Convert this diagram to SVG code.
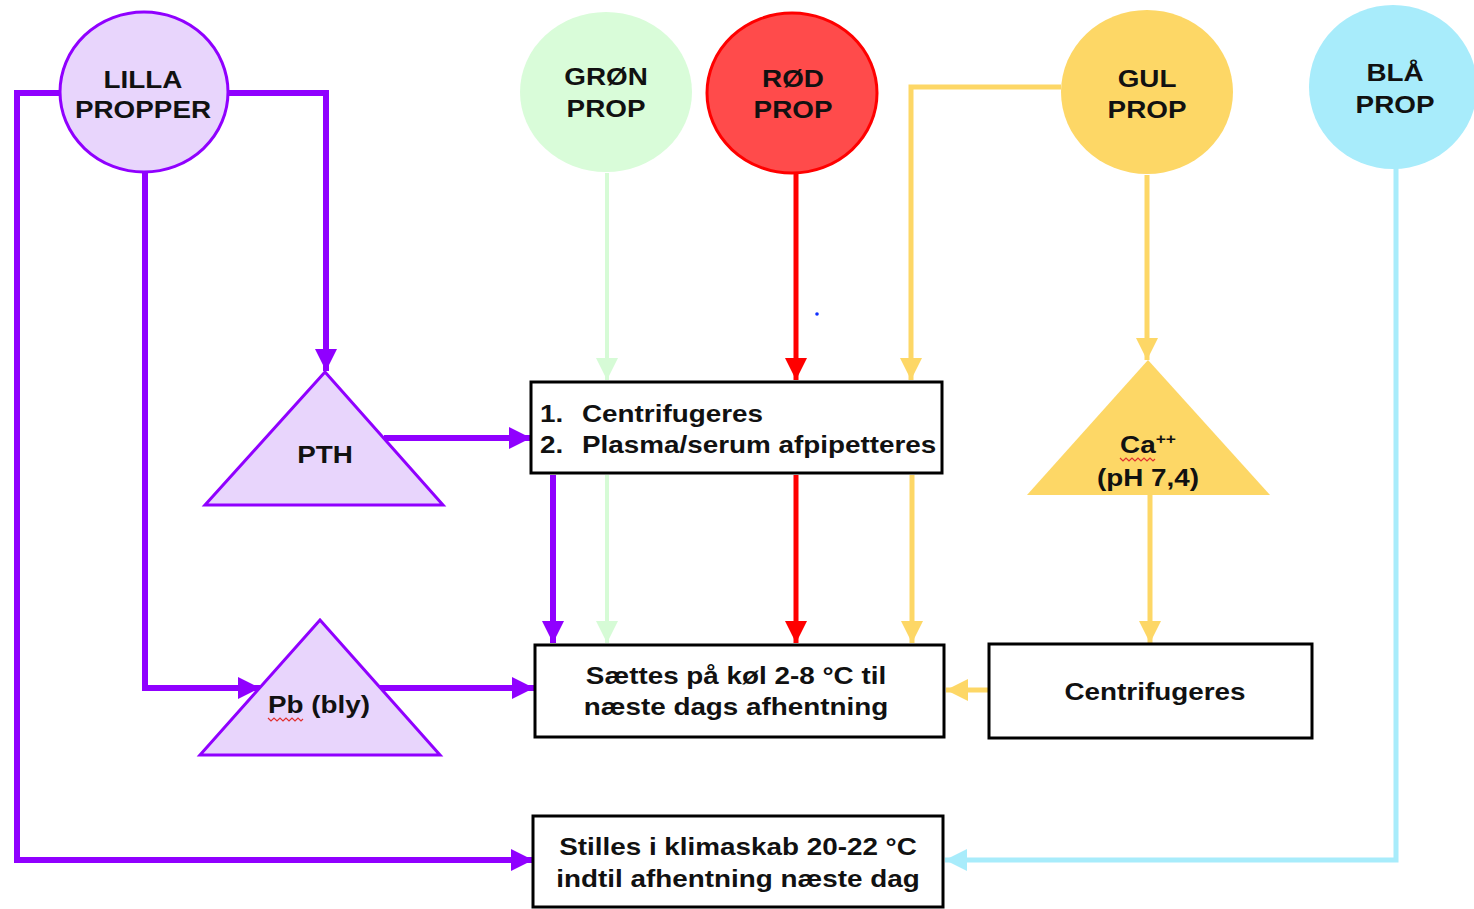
<svg xmlns="http://www.w3.org/2000/svg" width="1474" height="909" viewBox="0 0 1474 909">
<style>
text{font-family:"Liberation Sans",Arial,sans-serif;font-weight:bold;font-size:24px;fill:#111;}
.c{text-anchor:middle;}
.box{fill:#fff;stroke:#000;stroke-width:3;}
.cn{fill:none;}
.pu{stroke:#9000ff;stroke-width:6;}
.gr{stroke:#d6fbd6;stroke-width:4;}
.rd{stroke:#ff0000;stroke-width:5;}
.ye{stroke:#fdd766;stroke-width:5;}
.bl{stroke:#a8ecfb;stroke-width:5;}
.sq{fill:none;stroke:#e03030;stroke-width:1.2;}
</style>
<defs>
<marker id="aPu" markerUnits="userSpaceOnUse" markerWidth="24" markerHeight="22" refX="22" refY="11" orient="auto"><path d="M0,0 L22,11 L0,22 z" fill="#9000ff"/></marker>
<marker id="aGr" markerUnits="userSpaceOnUse" markerWidth="24" markerHeight="22" refX="22" refY="11" orient="auto"><path d="M0,0 L22,11 L0,22 z" fill="#d6fbd6"/></marker>
<marker id="aRd" markerUnits="userSpaceOnUse" markerWidth="24" markerHeight="22" refX="22" refY="11" orient="auto"><path d="M0,0 L22,11 L0,22 z" fill="#ff0000"/></marker>
<marker id="aYe" markerUnits="userSpaceOnUse" markerWidth="24" markerHeight="22" refX="22" refY="11" orient="auto"><path d="M0,0 L22,11 L0,22 z" fill="#fdd766"/></marker>
<marker id="aBl" markerUnits="userSpaceOnUse" markerWidth="24" markerHeight="22" refX="22" refY="11" orient="auto"><path d="M0,0 L22,11 L0,22 z" fill="#a8ecfb"/></marker>
</defs>

<g id="connectors" class="cn">
<path class="pu" d="M60,93 H17 V860 H533" marker-end="url(#aPu)"/>
<path class="pu" d="M228,93 H326 V371" marker-end="url(#aPu)"/>
<path class="pu" d="M145,173 V688 H260" marker-end="url(#aPu)"/>
<path class="pu" d="M384,438 H531" marker-end="url(#aPu)"/>
<path class="pu" d="M380,688 H534" marker-end="url(#aPu)"/>
<path class="pu" d="M553,475 V643" marker-end="url(#aPu)"/>
<path class="gr" d="M607,173 V380" marker-end="url(#aGr)"/>
<path class="gr" d="M607,475 V643" marker-end="url(#aGr)"/>
<path class="rd" d="M796,174 V380" marker-end="url(#aRd)"/>
<path class="rd" d="M796,475 V643" marker-end="url(#aRd)"/>
<path class="ye" d="M1061,87 H911 V380" marker-end="url(#aYe)"/>
<path class="ye" d="M912,475 V643" marker-end="url(#aYe)"/>
<path class="ye" d="M1147,175 V360" marker-end="url(#aYe)"/>
<path class="ye" d="M1150,495 V643" marker-end="url(#aYe)"/>
<path class="ye" d="M989,690 H946" marker-end="url(#aYe)"/>
<path class="bl" d="M1396,168 V860 H945" marker-end="url(#aBl)"/>
</g>

<g id="lilla">
<ellipse cx="144" cy="92" rx="84" ry="80" fill="#e8d5fc" stroke="#9000ff" stroke-width="3"/>
<text class="c" transform="matrix(1.16 0 0 1 143 0)" x="0" y="88">LILLA</text>
<text class="c" transform="matrix(1.16 0 0 1 143 0)" x="0" y="118">PROPPER</text>
</g>
<g id="groen">
<ellipse cx="606" cy="92" rx="86" ry="80" fill="#d9fcd9"/>
<text class="c" transform="matrix(1.16 0 0 1 606 0)" x="0" y="85">GRØN</text>
<text class="c" transform="matrix(1.16 0 0 1 606 0)" x="0" y="117">PROP</text>
</g>
<g id="roed">
<ellipse cx="792" cy="93" rx="85" ry="80" fill="#ff4b4b" stroke="#ff0000" stroke-width="3"/>
<text class="c" transform="matrix(1.16 0 0 1 793 0)" x="0" y="87">RØD</text>
<text class="c" transform="matrix(1.16 0 0 1 793 0)" x="0" y="118">PROP</text>
</g>
<g id="gul">
<ellipse cx="1147" cy="92" rx="86" ry="82" fill="#fdd766"/>
<text class="c" transform="matrix(1.16 0 0 1 1147 0)" x="0" y="87">GUL</text>
<text class="c" transform="matrix(1.16 0 0 1 1147 0)" x="0" y="118">PROP</text>
</g>
<g id="blaa">
<ellipse cx="1393" cy="87" rx="84" ry="82" fill="#a8ecfb"/>
<text class="c" transform="matrix(1.16 0 0 1 1395 0)" x="0" y="81">BLÅ</text>
<text class="c" transform="matrix(1.16 0 0 1 1395 0)" x="0" y="113">PROP</text>
</g>

<g id="pth">
<polygon points="325,372 443,505 205,505" fill="#e8d5fc" stroke="#9000ff" stroke-width="3"/>
<text class="c" transform="matrix(1.16 0 0 1 325 0)" x="0" y="463">PTH</text>
</g>
<g id="pb">
<polygon points="320,620 440,755 200,755" fill="#e8d5fc" stroke="#9000ff" stroke-width="3"/>
<text class="c" transform="matrix(1.16 0 0 1 319 0)" x="0" y="713">Pb (bly)</text>
<path class="sq" d="M268,718 l3,3 l3,-3 l3,3 l3,-3 l3,3 l3,-3 l3,3 l3,-3 l3,3 l3,-3 l3,3 l2,-2"/>
</g>
<g id="ca">
<polygon points="1148,360 1270,495 1027,495" fill="#fdd766"/>
<text class="c" transform="matrix(1.16 0 0 1 1148 0)" x="0" y="453">Ca<tspan font-size="15" dy="-9">++</tspan></text>
<text class="c" transform="matrix(1.16 0 0 1 1148 0)" x="0" y="486">(pH 7,4)</text>
<path class="sq" d="M1120,458 l3,3 l3,-3 l3,3 l3,-3 l3,3 l3,-3 l3,3 l3,-3 l3,3 l3,-3 l3,3 l2,-2"/>
</g>

<g id="box1">
<rect class="box" x="531" y="382" width="411" height="91"/>
<text transform="matrix(1.16 0 0 1 540 0)" x="0" y="422">1.<tspan x="36.2">Centrifugeres</tspan></text>
<text transform="matrix(1.16 0 0 1 540 0)" x="0" y="453">2.<tspan x="36.2">Plasma/serum afpipetteres</tspan></text>
</g>
<g id="box2">
<rect class="box" x="535" y="645" width="409" height="92"/>
<text class="c" transform="matrix(1.16 0 0 1 736 0)" x="0" y="684">Sættes på køl 2-8 °C til</text>
<text class="c" transform="matrix(1.16 0 0 1 736 0)" x="0" y="715">næste dags afhentning</text>
</g>
<g id="box3">
<rect class="box" x="989" y="644" width="323" height="94"/>
<text class="c" transform="matrix(1.16 0 0 1 1155 0)" x="0" y="700">Centrifugeres</text>
</g>
<g id="box4">
<rect class="box" x="533" y="816" width="410" height="91"/>
<text class="c" transform="matrix(1.16 0 0 1 738 0)" x="0" y="855">Stilles i klimaskab 20-22 °C</text>
<text class="c" transform="matrix(1.16 0 0 1 738 0)" x="0" y="887">indtil afhentning næste dag</text>
</g>
<circle cx="817" cy="314" r="1.8" fill="#1030ff"/>
</svg>
